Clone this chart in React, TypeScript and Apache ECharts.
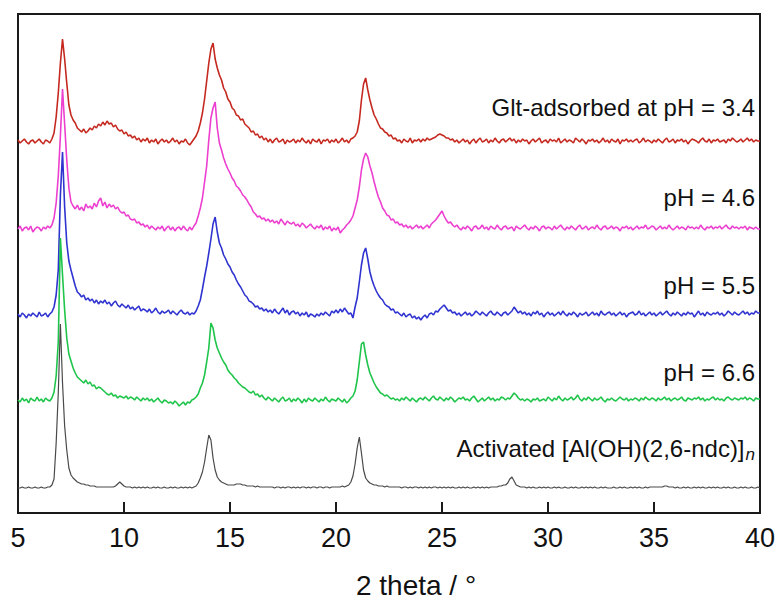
import React, { useEffect, useRef } from 'react';
import * as echarts from 'echarts';

// 2θ sampling grid: 5.0° to 40.0° in 0.1° steps
const X_START = 5;
const X_STEP = 0.1;
const xTicks = [5, 10, 15, 20, 25, 30, 35, 40];

const sampleLabels = [
  'Glt-adsorbed at pH = 3.4',
  'pH = 4.6',
  'pH = 5.5',
  'pH = 6.6',
  'Activated [Al(OH)(2,6-ndc)]',
];
const sampleColors = ['#c5281f', '#ec3fcf', '#2f33cf', '#1fc44a', '#4a4a4a'];
// vertical offset of each stacked pattern (arb. units)
const baselineOffsets = [372, 285, 198, 113, 25];

// intensities above each pattern's own baseline, one row per degree (x.0 … x.9)
const redIntensity = [
  1, -2, 0, 2, -1, -3, 0, 1, -2, 0,
  2, -1, -3, 1, 0, -2, 2, 8, 24, 48,
  78, 102, 82, 58, 36, 26, 21, 18, 13, 11,
  9, 12, 8, 10, 13, 11, 15, 13, 17, 15,
  19, 16, 20, 17, 18, 14, 16, 12, 10, 11,
  7, 9, 5, 6, 3, 5, 1, 3, -1, 2,
  0, 3, -2, 1, -1, 2, -3, 0, 2, -1,
  1, -2, 0, 3, -1, 1, -3, 0, -1, 2,
  -2, -4, -1, 2, 5, 10, 18, 28, 42, 60,
  78, 92, 98, 82, 73, 66, 61, 53, 49, 42,
  39, 33, 31, 26, 25, 21, 22, 17, 15, 13,
  9, 10, 6, 7, 3, 5, 1, 3, -1, 2,
  -2, 1, 3, -1, 0, 2, -3, 1, -1, 0,
  2, -2, 1, -1, 3, 0, -2, 1, -3, 2,
  0, -1, 2, -3, 1, 0, 2, -2, 1, -1,
  2, -2, 0, 3, -1, 1, -2, 2, 3, 5,
  9, 20, 41, 57, 63, 51, 41, 33, 26, 22,
  17, 13, 12, 9, 8, 5, 6, 2, 3, 0,
  1, -2, 2, 0, -1, 3, -2, 1, 0, 2,
  -1, 2, 0, 3, 1, 2, 3, 4, 6, 7,
  6, 5, 3, 3, 1, 2, -1, 1, -2, 0,
  2, -1, 1, -3, 0, 2, -2, 1, 3, -1,
  0, 2, -2, 1, -1, 3, 0, -2, 1, 2,
  -1, 1, 3, 0, 2, -2, 1, -1, 2, 0,
  1, -3, 0, 2, -1, 1, 3, -2, 0, 1,
  -2, 2, 0, 1, -1, 3, -2, 0, 2, -1,
  1, 0, -2, 3, 1, -1, 2, 0, -3, 1,
  0, 2, -1, 1, -2, 0, 3, -1, 1, -2,
  2, 0, -1, 2, -3, 1, 0, 2, -1, 1,
  -1, 1, 2, -2, 0, 3, -1, 1, 0, -2,
  1, -1, 2, 0, -2, 1, 3, -1, 0, 2,
  -2, 1, 0, 2, -1, 1, -3, 0, 2, 1,
  0, -2, 1, 3, 0, -1, 2, -2, 1, 0,
  2, -1, 0, 1, -2, 2, 0, 3, 1, -1,
  0, 2, -1, 1, 3, 0, 2, -1, 1, 0,
  0,
];

const magentaIntensity = [
  -1, 2, -3, 0, 1, -2, 2, -4, -1, 1,
  0, -3, 1, -1, 2, 0, 3, 10, 25, 52,
  92, 139, 104, 68, 40, 26, 22, 19, 23, 18,
  21, 17, 24, 20, 22, 19, 25, 21, 27, 30,
  22, 26, 20, 24, 21, 23, 19, 21, 17, 15,
  16, 12, 13, 9, 8, 9, 5, 6, 3, 4,
  1, 3, -1, 2, 0, -2, 1, -1, 2, -3,
  0, 2, -2, 1, -3, 0, 1, -2, 2, -1,
  -3, 1, -2, 2, 5, 12, 20, 30, 46, 62,
  88, 110, 120, 126, 100, 85, 78, 70, 64, 59,
  55, 50, 47, 42, 40, 37, 33, 31, 28, 24,
  21, 16, 14, 11, 12, 9, 10, 7, 9, 6,
  8, 5, 7, 4, 9, 6, 3, 7, 5, 4,
  6, 2, 4, 1, 5, 3, 0, 2, 4, 1,
  -1, 2, 0, 3, -2, 1, -1, 2, -3, 0,
  -2, 1, -5, -2, 0, 3, 5, 8, 12, 20,
  28, 41, 58, 69, 75, 71, 62, 55, 46, 38,
  31, 26, 20, 17, 13, 12, 8, 9, 5, 6,
  3, 4, 1, 3, 0, 2, -1, 1, 3, 0,
  2, -1, 1, 3, 0, 4, 6, 8, 11, 14,
  17, 12, 8, 5, 6, 3, 1, 3, 0, -2,
  1, -1, 2, 0, -3, 1, 2, -1, 0, 3,
  -1, 1, -2, 2, 0, -1, 3, 0, -2, 1,
  2, -1, 0, 1, -3, 2, 0, -1, 1, 3,
  0, -2, 1, -1, 2, 0, -3, 1, 2, -1,
  1, 0, -2, 2, -1, 1, 3, 0, -2, 1,
  -1, 2, 0, -2, 1, 3, -1, 0, 2, -2,
  0, 1, -1, 3, 0, -2, 1, 2, -1, 0,
  2, -1, 1, 0, -3, 1, 0, 2, -1, 1,
  -2, 0, 2, -1, 1, 0, 3, -1, 0, 2,
  1, -2, 0, 2, -1, 1, -1, 3, 0, -2,
  0, 2, -1, 1, 0, -2, 2, 0, 1, -1,
  1, -1, 3, 0, -2, 1, 0, 2, -1, 1,
  0, 2, -1, 1, 3, 0, -1, 2, 0, 1,
  -1, 1, 0, 2, -2, 1, 0, -1, 1, -1,
  -1,
];

const blueIntensity = [
  1, -2, 2, 0, -3, 1, -1, 2, 0, -2,
  3, -1, 0, 2, -2, 1, 3, 8, 20, 45,
  120, 163, 108, 72, 54, 45, 37, 29, 23, 21,
  18, 20, 15, 17, 14, 16, 12, 15, 11, 14,
  12, 15, 11, 13, 9, 12, 14, 10, 8, 11,
  9, 7, 10, 6, 8, 5, 7, 9, 4, 6,
  5, 3, 6, 2, 4, 7, 3, 1, 4, 2,
  3, 5, 1, 4, 2, 0, 3, 5, 2, 1,
  3, 0, 2, 1, 4, 9, 15, 26, 38, 49,
  62, 76, 91, 98, 83, 72, 67, 60, 56, 51,
  48, 43, 40, 35, 31, 28, 24, 20, 18, 14,
  13, 11, 8, 9, 6, 7, 4, 6, 3, 5,
  2, 6, 3, 1, 4, 7, 2, 5, 0, 3,
  4, 1, 3, -1, 2, 0, 3, -2, 1, 0,
  -2, 1, -1, 2, 0, 3, 1, -1, 4, 2,
  5, 2, 6, 3, 7, 4, 1, 2, -3, 8,
  17, 33, 50, 62, 67, 56, 43, 35, 29, 24,
  20, 17, 15, 11, 9, 8, 5, 6, 2, 3,
  1, -1, 2, -2, 0, 1, -3, -1, -4, -2,
  -5, -2, 0, -3, 1, 2, 0, 4, 3, 6,
  8, 10, 7, 4, 5, 2, 3, 0, 2, -1,
  1, 3, 0, 2, -1, 1, 4, 2, 0, 3,
  1, -1, 2, 4, 1, 0, 3, 1, -1, 2,
  3, 0, 2, 4, 8, 5, 2, 4, 1, 3,
  0, 2, -1, 3, 1, 4, 0, 2, -2, 1,
  3, 0, 2, -1, 1, 3, 0, 4, 1, -1,
  2, 0, 3, 1, -2, 2, 0, 1, 3, -1,
  1, 3, 0, 2, -1, 4, 1, 0, 2, 3,
  0, 2, -1, 1, 3, 0, 2, -2, 1, 2,
  3, 0, 1, 4, 0, 2, -1, 1, 3, 0,
  2, -1, 1, 3, 0, 2, 4, 1, -1, 2,
  0, 3, 1, -1, 2, 0, 3, 1, 2, -2,
  1, 4, 0, 2, -1, 3, 1, 0, 2, 1,
  3, 0, 2, -1, 1, 4, 2, 0, 3, 1,
  0, 2, 4, 1, 3, 0, 2, 1, 4, 2,
  2,
];

const greenIntensity = [
  0, -2, 2, -1, 1, -3, 2, 0, -1, 3,
  -1, 1, -2, 2, 0, -1, 2, 8, 24, 58,
  162, 125, 90, 62, 46, 39, 32, 27, 23, 21,
  19, 17, 20, 16, 18, 14, 15, 11, 13, 12,
  10, 8, 6, 5, 7, 4, 5, 2, 4, 3,
  2, 4, 1, 3, 2, 0, 3, 1, -1, 2,
  0, 2, -1, 1, -2, 0, 2, -1, -3, 0,
  -1, -3, -2, -4, -1, -3, -6, -4, -2, -5,
  -2, -3, 0, 1, 3, 6, 12, 17, 25, 38,
  52, 77, 72, 60, 52, 47, 42, 38, 35, 30,
  27, 25, 22, 20, 17, 15, 13, 12, 10, 8,
  7, 9, 5, 6, 3, 5, 2, 0, 3, 1,
  -1, 2, 0, -2, 1, 3, -1, 0, 2, -2,
  1, -1, 2, 0, -3, 1, -2, 2, 0, -1,
  2, 0, -2, 1, -1, 3, 0, -2, 1, 0,
  -1, 2, 0, -2, 1, -3, -1, 2, 4, 9,
  20, 38, 56, 58, 45, 35, 27, 22, 17, 13,
  10, 7, 6, 4, 5, 3, 1, 2, 0, 1,
  -1, 2, 0, 3, 1, -1, 2, 0, -2, 1,
  2, 0, 3, 1, -1, 2, 4, 1, 0, 3,
  1, -1, 2, 0, 3, 1, -2, 0, 2, 1,
  3, 0, 1, -1, 2, 4, 1, -2, 0, 2,
  -1, 1, 3, 0, 2, -1, 1, 0, 3, 2,
  0, 2, 1, 4, 7, 5, 2, 0, 1, -1,
  1, 0, -2, 1, 0, 2, -1, 0, 1, -1,
  3, 1, -1, 2, 0, 4, 1, -1, 2, 0,
  1, 3, 0, 2, 5, 1, -1, 2, 0, 3,
  1, -1, 2, 0, 1, 3, 0, -2, 1, 0,
  2, 0, -1, 1, 3, 1, 0, 2, -1, 1,
  0, 2, 1, -1, 2, 0, 3, 1, 0, 2,
  1, -1, 2, 0, 1, 3, 0, 2, -1, 1,
  2, 0, 1, 3, 0, -1, 2, 1, 0, 2,
  1, 3, 0, 2, -1, 1, 0, 2, 3, 0,
  2, 0, 1, -1, 2, 3, 1, 0, 2, 1,
  0, 2, 1, 3, 0, 2, 1, -1, 2, 1,
  1,
];

const blackIntensity = [
  0, 0, 1, 0, 0, 1, 0, 0, 1, 0,
  0, 1, 0, 0, 1, 1, 3, 9, 45, 95,
  164, 105, 62, 38, 20, 13, 10, 8, 6, 5,
  4, 4, 3, 3, 2, 2, 2, 1, 1, 1,
  1, 1, 1, 1, 1, 1, 2, 4, 6, 4,
  2, 1, 1, 1, 0, 1, 0, 1, 0, 1,
  0, 1, 0, 0, 1, 0, 1, 0, 0, 1,
  0, 0, 1, 0, 1, 0, 0, 1, 0, 1,
  0, 1, 0, 1, 2, 5, 10, 16, 26, 40,
  53, 48, 30, 18, 11, 8, 6, 5, 4, 3,
  3, 3, 3, 4, 4, 4, 3, 3, 2, 2,
  2, 2, 1, 2, 1, 1, 1, 1, 1, 1,
  1, 0, 1, 1, 0, 1, 0, 1, 1, 0,
  1, 0, 1, 0, 1, 1, 0, 1, 0, 1,
  1, 0, 1, 1, 0, 1, 1, 0, 1, 1,
  1, 1, 1, 2, 1, 2, 3, 6, 12, 24,
  40, 51, 35, 18, 10, 7, 5, 4, 3, 3,
  2, 2, 2, 1, 2, 1, 1, 1, 1, 1,
  1, 0, 1, 1, 0, 1, 0, 1, 1, 0,
  1, 0, 1, 0, 1, 0, 1, 1, 0, 1,
  0, 1, 0, 1, 0, 1, 0, 0, 1, 0,
  1, 0, 1, 0, 0, 1, 0, 1, 0, 1,
  0, 1, 0, 1, 1, 1, 1, 2, 2, 3,
  3, 5, 9, 11, 7, 3, 2, 1, 1, 1,
  0, 1, 0, 1, 0, 0, 1, 0, 1, 0,
  1, 0, 0, 1, 0, 1, 0, 0, 1, 0,
  0, 1, 0, 1, 0, 0, 1, 0, 1, 0,
  1, 0, 1, 0, 0, 1, 0, 1, 0, 0,
  0, 1, 0, 0, 1, 0, 1, 0, 0, 1,
  0, 1, 0, 1, 0, 0, 1, 0, 1, 1,
  1, 1, 1, 1, 1, 2, 2, 1, 1, 1,
  0, 1, 0, 0, 1, 0, 1, 0, 0, 1,
  0, 1, 0, 1, 0, 0, 1, 0, 1, 0,
  1, 0, 0, 1, 0, 1, 0, 0, 1, 0,
  0, 1, 0, 1, 0, 0, 1, 0, 0, 1,
  0,
];

const intensities = [redIntensity, magentaIntensity, blueIntensity, greenIntensity, blackIntensity];

const FONT = '"Liberation Sans", Arial, Helvetica, sans-serif';

export default function App() {
  const ref = useRef<HTMLDivElement>(null);

  useEffect(() => {
    if (!ref.current) return;
    const chart = echarts.init(ref.current, undefined, { renderer: 'svg' });

    const series = intensities.map((arr, k) => ({
      type: 'line' as const,
      name: sampleLabels[k],
      data: arr.map((v, i) => [Math.round((X_START + i * X_STEP) * 10) / 10, baselineOffsets[k] + v]),
      showSymbol: false,
      symbol: 'none',
      lineStyle: { color: sampleColors[k], width: k === 4 ? 1.2 : 1.6 },
      itemStyle: { color: sampleColors[k] },
      z: 2 + k,
      silent: true,
    }));

    const labelY = [107, 197, 285, 372, 448];

    const graphics: any[] = sampleLabels.slice(0, 4).map((t, k) => ({
      type: 'text',
      x: 755,
      y: labelY[k],
      style: {
        text: t,
        fontSize: 24,
        fontFamily: FONT,
        fill: '#111',
        align: 'right',
        verticalAlign: 'middle',
      },
      z: 10,
    }));
    graphics.push({
      type: 'text',
      x: 755,
      y: labelY[4],
      style: {
        text: '{a|' + sampleLabels[4] + '}{s|n}',
        rich: {
          a: { fontSize: 24, fontFamily: FONT, fill: '#111' },
          s: { fontSize: 17, fontFamily: FONT, fontStyle: 'italic', fill: '#111', padding: [13, 0, 0, 1] },
        },
        align: 'right',
        verticalAlign: 'middle',
      },
      z: 10,
    });
    graphics.push({
      type: 'text',
      x: 416,
      y: 585,
      style: {
        text: '2 theta / °',
        fontSize: 28,
        fontFamily: FONT,
        fill: '#111',
        align: 'center',
        verticalAlign: 'middle',
      },
    });

    chart.setOption({
      animation: false,
      backgroundColor: '#ffffff',
      grid: {
        left: 18,
        right: 21,
        top: 14,
        bottom: 89,
        show: true,
        borderColor: '#1a1a1a',
        borderWidth: 2,
        backgroundColor: 'transparent',
      },
      xAxis: {
        type: 'value',
        min: xTicks[0],
        max: xTicks[xTicks.length - 1],
        interval: 5,
        axisLine: { show: true, onZero: false, lineStyle: { color: '#1a1a1a', width: 2 } },
        axisTick: { show: true, inside: true, length: 11, lineStyle: { color: '#1a1a1a', width: 2 } },
        axisLabel: {
          margin: 11,
          fontSize: 27,
          fontFamily: FONT,
          color: '#111',
          formatter: (v: number) => String(v),
        },
        splitLine: { show: false },
      },
      yAxis: {
        type: 'value',
        min: 0,
        max: 499,
        show: false,
        splitLine: { show: false },
      },
      series,
      graphic: graphics,
    });

    return () => chart.dispose();
  }, []);

  return (
    <div
      ref={ref}
      style={{ position: 'fixed', left: 0, top: 0, width: 781, height: 602, background: '#fff' }}
    />
  );
}
